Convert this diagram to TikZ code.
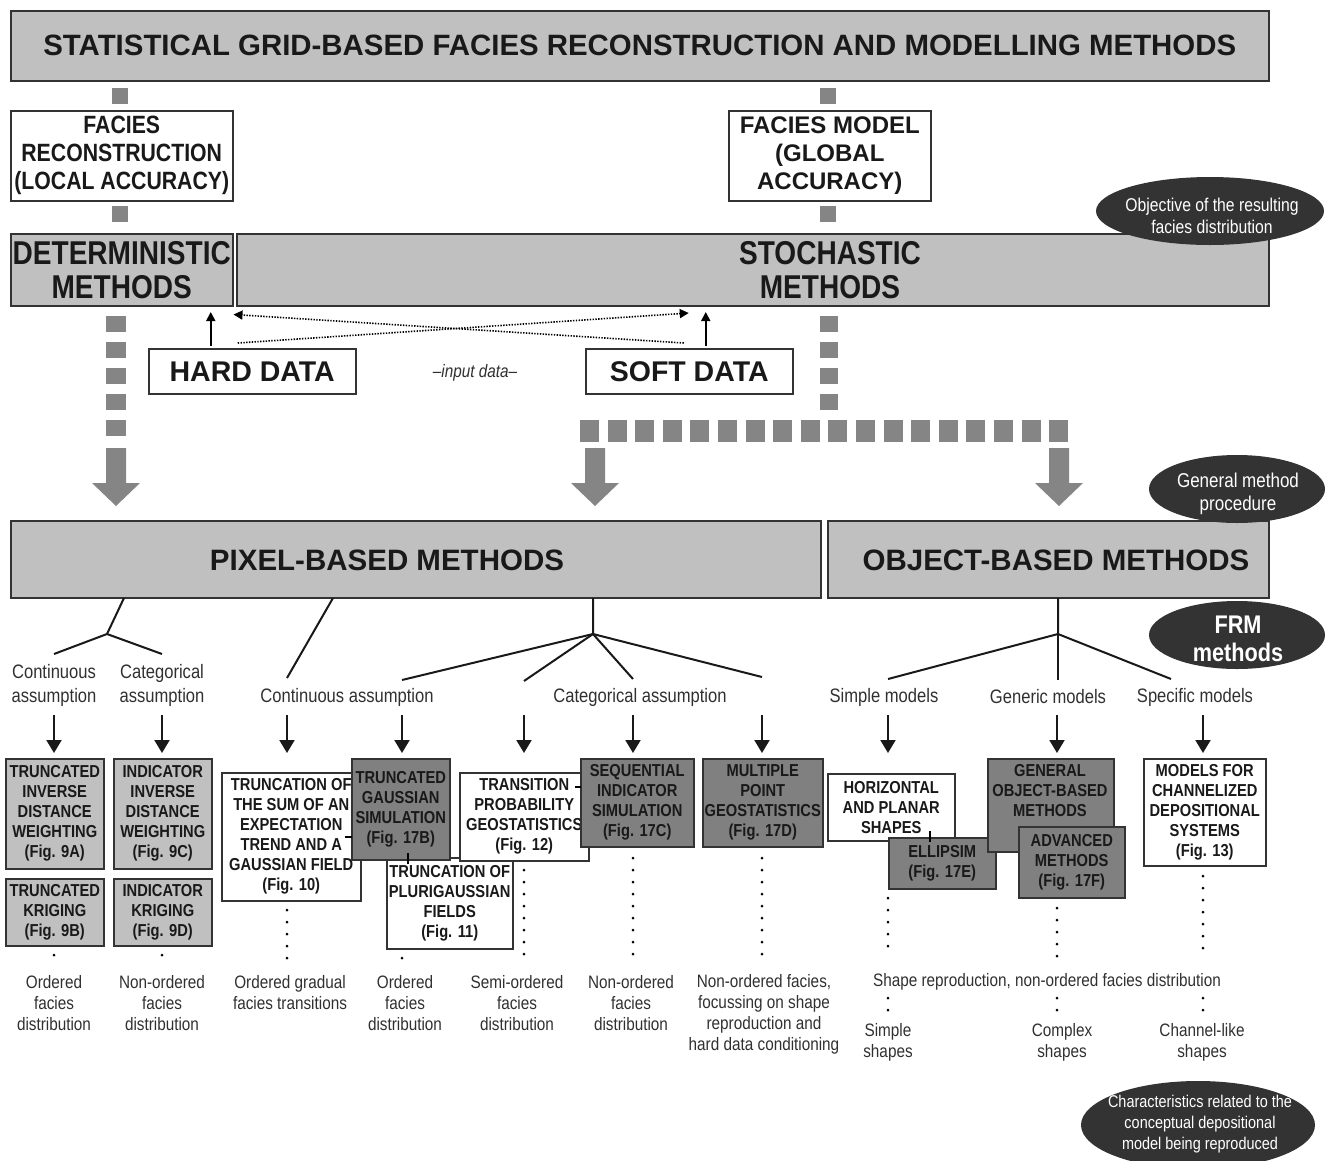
\documentclass[tikz,border=0pt]{standalone}
\usepackage{fontspec}
\setmainfont{Liberation Sans}
\newfontfamily\narrow[FakeStretch=0.85]{Liberation Sans}
\usetikzlibrary{shapes.geometric,arrows.meta}
\definecolor{lgray}{HTML}{C0C0C0}
\definecolor{dgray}{HTML}{808080}
\definecolor{sqgray}{HTML}{858585}
\definecolor{blobfill}{HTML}{333333}
\definecolor{captxt}{HTML}{303030}
\newcommand{\fs}[2]{\fontsize{#1}{#2}\selectfont}
\begin{document}
\begin{tikzpicture}[x=1pt, y=-1pt,
    every node/.style={align=center, inner sep=0pt, text=black!90},
    box/.style={rectangle, draw=black!80, line width=1.5pt, anchor=north west},
    lbox/.style={box, fill=lgray},
    wbox/.style={box, fill=white},
    dbox/.style={box, fill=dgray},
    btxt/.style={font=\narrow\bfseries\fs{17.3}{20}},
    captn/.style={font=\narrow\fs{19.5}{24}, text=captxt},
    note/.style={font=\narrow\fs{18}{21}, text=captxt},
    blob/.style={ellipse, fill=blobfill, draw=none},
    blobtxt/.style={font=\narrow\fs{18.5}{22}, text=white},
    tree/.style={line width=2pt, black!90},
    arr/.style={-{Triangle[length=13pt, width=15pt]}, line width=2pt, black!90},
    uparr/.style={-{Triangle[length=9pt, width=9pt]}, line width=1.8pt},
    dataarr/.style={-{Triangle[length=9pt, width=9pt]}, line width=1.6pt, dash pattern=on 1.4pt off 1.4pt},
    dotline/.style={line width=3pt, line cap=round, dash pattern=on 0pt off 12pt},
    tick/.style={line width=2pt}
]
\useasboundingbox (0,0) rectangle (1326,1160);

% top part
\node[lbox, minimum width=1258, minimum height=70, font=\bfseries\fs{29.4}{34}] (title) at (10,10)
    {STATISTICAL GRID-BASED FACIES RECONSTRUCTION AND MODELLING METHODS};
\node[wbox, minimum width=222, minimum height=90, font=\narrow\bfseries\fs{25}{28}] (frec) at (10,110)
    {FACIES\\RECONSTRUCTION\\(LOCAL ACCURACY)};
\node[wbox, minimum width=202, minimum height=90, font=\bfseries\fs{24}{28}] (fmod) at (728,110)
    {FACIES MODEL\\(GLOBAL\\ACCURACY)};
\node[lbox, minimum width=222, minimum height=72, font=\narrow\bfseries\fs{33}{34}] (det) at (10,233)
    {DETERMINISTIC\\METHODS};
\node[lbox, minimum width=1032, minimum height=72] (sto) at (236,233) {};
\node[font=\narrow\bfseries\fs{33}{34}] (stot) at (830,270) {STOCHASTIC\\METHODS};
\node[blob, minimum width=228, minimum height=68] (objb) at (1210,211) {};
\node[blobtxt] (objt) at (1212,216) {Objective of the resulting\\facies distribution};

\foreach \cx in {120,828} {
  \fill[sqgray] ({\cx-8},88) rectangle ({\cx+8},104);
  \fill[sqgray] ({\cx-8},206) rectangle ({\cx+8},222);
}

% input data
\node[wbox, minimum width=207, minimum height=45, font=\bfseries\fs{28.5}{30}] (hard) at (148,348) {HARD DATA};
\node[wbox, minimum width=207, minimum height=45, font=\bfseries\fs{28.5}{30}] (soft) at (585,348) {SOFT DATA};
\node[font=\narrow\itshape\fs{18}{20}, text=captxt] (inp) at (475,373) {–input data–};
\draw[uparr] ([xshift=-41.5pt, yshift=2pt]hard.north) -- ++(0,-34);
\draw[uparr] ([xshift=16.5pt, yshift=2pt]soft.north) -- ++(0,-34);
\draw[dataarr] ([xshift=-14.5pt, yshift=5pt]hard.north) -- ([xshift=-0.5pt, yshift=35pt]soft.north);
\draw[dataarr] ([xshift=-5.5pt, yshift=5pt]soft.north) -- ([yshift=-8pt]det.south east);

% gray flow
\foreach \y in {316,342,...,420} \fill[sqgray] (106,\y) rectangle (126,{\y+16});
\foreach \y in {316,342,368,394} \fill[sqgray] (820,\y) rectangle (838,{\y+16});
\foreach \i in {0,...,17} \fill[sqgray] ({580+27.6*\i},420) rectangle ({599+27.6*\i},442);
\foreach \cx in {116,595,1059}
  \fill[sqgray] ({\cx-10},448) -- ({\cx+10},448) -- ({\cx+10},483) -- ({\cx+24},483)
    -- (\cx,506) -- ({\cx-24},483) -- ({\cx-10},483) -- cycle;

% method families
\node[lbox, minimum width=810, minimum height=77] (pix) at (10,520) {};
\node[font=\bfseries\fs{29.5}{32}] (pixt) at (387,560) {PIXEL-BASED METHODS};
\node[lbox, minimum width=441, minimum height=77] (obj) at (827,520) {};
\node[font=\bfseries\fs{29.5}{32}] (objt2) at (1056,560) {OBJECT-BASED METHODS};
\node[blob, minimum width=176, minimum height=68] (genb) at (1237,489) {};
\node[blobtxt, font=\narrow\fs{20}{23}] (gent) at (1238,494) {General method\\procedure};
\node[blob, minimum width=176, minimum height=68] (frmb) at (1237,635) {};
\node[blobtxt, font=\narrow\bfseries\fs{25.5}{28}] (frmt) at (1238,639) {FRM\\methods};

% trees
\coordinate (jl) at (107,634);
\coordinate (jp) at (593,634);
\coordinate (jo) at (1058,634);
\draw[tree] (124,598) -- (jl) -- (54,654);
\draw[tree] (jl) -- (162,654);
\draw[tree] (333,598) -- (287,678);
\draw[tree] (593,598) -- (jp) -- (402,680);
\foreach \x/\y in {524/681, 633/679, 762/677} \draw[tree] (jp) -- (\x,\y);
\draw[tree] (1058,598) -- (jo) -- (888,679);
\foreach \x/\y in {1058/680, 1171/679} \draw[tree] (jo) -- (\x,\y);

\node[captn] (cca) at (54,685) {Continuous\\assumption};
\node[captn] (cat) at (162,685) {Categorical\\assumption};
\node[captn] (ccb) at (347,697) {Continuous assumption};
\node[captn] (ccc) at (640,697) {Categorical assumption};
\node[captn] (sim) at (884,697) {Simple models};
\node[captn] (gen) at (1048,697) {Generic models};
\node[captn] (spe) at (1195,697) {Specific models};

\foreach \x in {54,162,287,402,524,633,762,888,1057,1203}
  \draw[arr] (\x,715) -- (\x,753);

% method boxes
\node[lbox, btxt, minimum width=98, minimum height=110] (tidw) at (5,758)
    {TRUNCATED\\INVERSE\\DISTANCE\\WEIGHTING\\(Fig. 9A)};
\node[lbox, btxt, minimum width=98, minimum height=110] (iidw) at (113,758)
    {INDICATOR\\INVERSE\\DISTANCE\\WEIGHTING\\(Fig. 9C)};
\node[lbox, btxt, minimum width=98, minimum height=67] (tkr) at (5,878)
    {TRUNCATED\\KRIGING\\(Fig. 9B)};
\node[lbox, btxt, minimum width=98, minimum height=67] (ikr) at (113,878)
    {INDICATOR\\KRIGING\\(Fig. 9D)};
\node[wbox, btxt, minimum width=139, minimum height=128] (tos) at (221,772)
    {TRUNCATION OF\\THE SUM OF AN\\EXPECTATION\\TREND AND A\\GAUSSIAN FIELD\\(Fig. 10)};
\node[wbox, btxt, minimum width=126, minimum height=91] (plg) at (386,857)
    {TRUNCATION OF\\PLURIGAUSSIAN\\FIELDS\\(Fig. 11)};
\node[dbox, btxt, minimum width=98, minimum height=101] (tgs) at (351,758)
    {TRUNCATED\\GAUSSIAN\\SIMULATION\\(Fig. 17B)};
\node[wbox, btxt, minimum width=129, minimum height=88] (tpg) at (459,772)
    {TRANSITION\\PROBABILITY\\GEOSTATISTICS\\(Fig. 12)};
\node[dbox, btxt, minimum width=113, minimum height=88] (sis) at (580,758)
    {SEQUENTIAL\\INDICATOR\\SIMULATION\\(Fig. 17C)};
\node[dbox, btxt, minimum width=120, minimum height=88] (mpg) at (702,758)
    {MULTIPLE\\POINT\\GEOSTATISTICS\\(Fig. 17D)};
\node[wbox, btxt, minimum width=127, minimum height=67] (haps) at (827,773)
    {HORIZONTAL\\AND PLANAR\\SHAPES};
\node[dbox, btxt, minimum width=107, minimum height=51] (ell) at (888,837)
    {ELLIPSIM\\(Fig. 17E)};
\node[dbox, minimum width=126, minimum height=93] (gobm) at (987,758) {};
\node[btxt] (gobmt) at (1050,791) {GENERAL\\OBJECT-BASED\\METHODS};
\node[dbox, btxt, minimum width=106, minimum height=71] (adv) at (1018,826)
    {ADVANCED\\METHODS\\(Fig. 17F)};
\node[wbox, btxt, minimum width=122, minimum height=107] (mcds) at (1143,758)
    {MODELS FOR\\CHANNELIZED\\DEPOSITIONAL\\SYSTEMS\\(Fig. 13)};

\draw[tick] (345,837) -- (352,837);
\draw[tick] (408,853) -- (408,864);
\draw[tick] (575,787) -- (581,787);
\draw[tick] (930,831) -- (930,842);

% resulting facies
\node[note] (n1) at (54,1003) {Ordered\\facies\\distribution};
\node[note] (n2) at (162,1003) {Non-ordered\\facies\\distribution};
\node[note] (n3) at (290,993) {Ordered gradual\\facies transitions};
\node[note] (n4) at (405,1003) {Ordered\\facies\\distribution};
\node[note] (n5) at (517,1003) {Semi-ordered\\facies\\distribution};
\node[note] (n6) at (631,1003) {Non-ordered\\facies\\distribution};
\node[note] (n7) at (764,1014) {Non-ordered facies,\\focussing on shape\\reproduction and\\hard data conditioning};
\node[note] (n8) at (1047,982) {Shape reproduction, non-ordered facies distribution};
\node[note] (n9) at (888,1042) {Simple\\shapes};
\node[note] (n10) at (1062,1042) {Complex\\shapes};
\node[note] (n11) at (1202,1042) {Channel-like\\shapes};

\foreach \x/\ya/\yb in {54/955/955, 162/955/955, 287/910/960, 402/958/958, 524/870/956,
    633/858/956, 762/858/956, 888/898/956, 1057/908/956, 1203/876/956,
    888/998/1010, 1057/998/1010, 1203/998/1010}
  \draw[dotline] (\x,\ya) -- (\x,{\yb+0.01});

\node[blob, minimum width=234, minimum height=88] (chb) at (1198,1125) {};
\node[blobtxt, font=\narrow\fs{17}{21}] (cht) at (1200,1124) {Characteristics related to the\\conceptual depositional\\model being reproduced};
\end{tikzpicture}
\end{document}
